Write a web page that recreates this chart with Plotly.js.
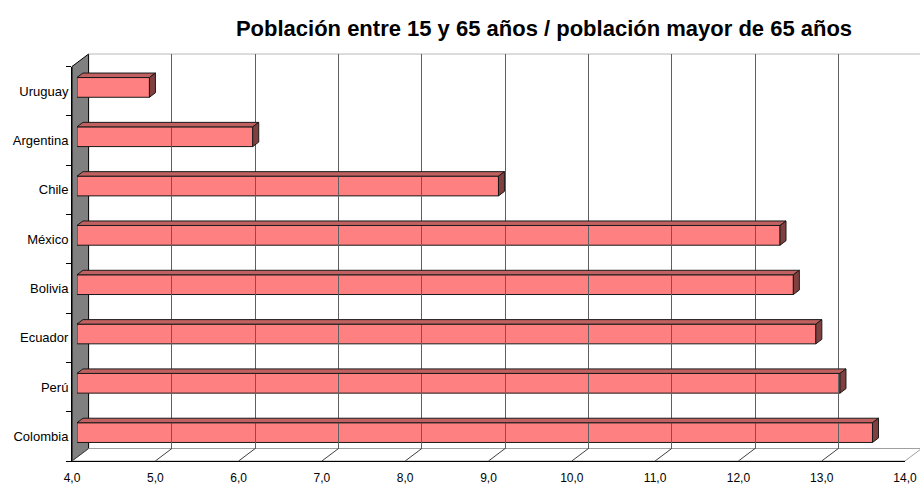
<!DOCTYPE html>
<html>
<head>
<meta charset="utf-8">
<script src="https://cdn.plot.ly/plotly-3.0.1.min.js"></script>
<style>html,body{margin:0;padding:0;background:#fff;}#chart{width:920px;height:484px;}</style>
</head>
<body>
<div id="chart"></div>
<script>
// ---- data ----
const countries = ['Colombia', 'Perú', 'Ecuador', 'Bolivia', 'México', 'Chile', 'Argentina', 'Uruguay'];
const ratios = [13.55, 13.16, 12.87, 12.60, 12.44, 9.06, 6.11, 4.87];
const xTickVals = [4, 5, 6, 7, 8, 9, 10, 11, 12, 13, 14];
const titleText = 'Población entre 15 y 65 años / población mayor de 65 años';

// ---- geometry / style (pseudo-3D frame) ----
const FIG_W = 920, FIG_H = 484;
const M = {l: 72, r: 0, t: 54, b: 23};
const PW = FIG_W - M.l - M.r, PH = FIG_H - M.t - M.b;
const FRONT_W = 833, FRONT_H = 394.5;   // front plane size (px)
const DX = 16.6, DY = 12.5;            // full depth offset (px)
const BAR_F = 0.3, BAR_D = 0.36;       // bar front position / bar depth, as fraction of full depth
const X_MIN = 4, X_MAX = 14;
const pxPerX = FRONT_W / (X_MAX - X_MIN);
const pxPerY = FRONT_H / countries.length;
const dxu = BAR_D * DX / pxPerX, dyu = BAR_D * DY / pxPerY;
const halfBar = 0.2;

const FAMILY = 'Liberation Sans, Arial, sans-serif';
const font = {family: FAMILY, size: 13, color: '#000'};
const xfont = {family: FAMILY, size: 12, color: '#000'};

const traces = [
  { // invisible trace holding the category axis of the front plane
    type: 'scatter', x: ratios, y: countries, xaxis: 'x', yaxis: 'y',
    mode: 'markers', marker: {opacity: 0}, hoverinfo: 'skip', showlegend: false
  },
  { // invisible trace holding the back wall axes
    type: 'scatter', x: ratios, y: countries, xaxis: 'x3', yaxis: 'y3',
    mode: 'markers', marker: {opacity: 0}, hoverinfo: 'skip', showlegend: false
  },
  { // bar front faces
    type: 'bar', orientation: 'h', y: countries, x: ratios.map(v => v - X_MIN), base: X_MIN,
    xaxis: 'x2', yaxis: 'y2', width: 2 * halfBar,
    marker: {color: '#FF8080', line: {color: '#1a1a1a', width: 1}},
    hovertemplate: '%{y}: %{customdata}<extra></extra>', customdata: ratios,
    showlegend: false
  }
];

const shapes = [];
// left wall
shapes.push({type: 'path', xref: 'paper', yref: 'paper', layer: 'below',
  path: `M 0,0 L 0,${FRONT_H / PH} L ${DX / PW},1 L ${DX / PW},${DY / PH} Z`,
  fillcolor: '#808080', line: {color: '#000', width: 1}});
// floor
shapes.push({type: 'path', xref: 'paper', yref: 'paper', layer: 'below',
  path: `M 0,0 L ${FRONT_W / PW},0 L ${(FRONT_W + DX) / PW},${DY / PH} L ${DX / PW},${DY / PH} Z`,
  fillcolor: '#fff', line: {color: '#a0a0a0', width: 1}});
// back wall top edge
shapes.push({type: 'line', xref: 'paper', yref: 'paper', layer: 'below',
  x0: DX / PW, y0: 1, x1: 1, y1: 1, line: {color: '#b8b8b8', width: 1}});
// floor tick diagonals
xTickVals.forEach(v => {
  shapes.push({type: 'line', xref: 'x', yref: 'paper', layer: 'above',
    x0: v, y0: 0, x1: v + DX / pxPerX, y1: DY / PH, line: {color: '#404040', width: 1}});
});
// bar top and side faces
ratios.forEach((v, i) => {
  const yt = i + halfBar, yb = i - halfBar;
  shapes.push({type: 'path', xref: 'x2', yref: 'y2', layer: 'above',
    path: `M ${X_MIN},${yt} L ${v},${yt} L ${v + dxu},${yt + dyu} L ${X_MIN + dxu},${yt + dyu} Z`,
    fillcolor: '#C06060', line: {color: '#1a1a1a', width: 1}});
  shapes.push({type: 'path', xref: 'x2', yref: 'y2', layer: 'above',
    path: `M ${v},${yb} L ${v},${yt} L ${v + dxu},${yt + dyu} L ${v + dxu},${yb + dyu} Z`,
    fillcolor: '#804040', line: {color: '#1a1a1a', width: 1}});
});

const hidden = {showline: false, showticklabels: false, zeroline: false, showgrid: false, ticks: '', fixedrange: true};

const layout = {
  width: FIG_W, height: FIG_H,
  margin: M,
  paper_bgcolor: '#fff', plot_bgcolor: 'rgba(0,0,0,0)',
  separators: ',.',
  font: font,
  showlegend: false,
  title: {
    text: titleText, x: 544 / FIG_W, xanchor: 'center', xref: 'container',
    y: 1 - 28 / FIG_H, yanchor: 'middle', yref: 'container',
    font: {family: FAMILY, size: 22, color: '#000', weight: 'bold'}
  },
  xaxis: {
    domain: [0, FRONT_W / PW], range: [X_MIN, X_MAX], anchor: 'y',
    tickmode: 'array', tickvals: xTickVals, tickformat: '.1f',
    showline: true, linecolor: '#000', linewidth: 1, showgrid: false, zeroline: false,
    ticks: '', ticklabelstandoff: 6, tickfont: xfont, fixedrange: true
  },
  yaxis: {
    domain: [0, FRONT_H / PH], range: [-0.5, countries.length - 0.5], anchor: 'x',
    type: 'category', tickson: 'boundaries', ticks: 'outside', ticklen: 5, tickcolor: '#000',
    showline: true, linecolor: '#000', linewidth: 1, showgrid: false, zeroline: false,
    tickfont: font, fixedrange: true
  },
  xaxis2: Object.assign({}, hidden, {
    domain: [BAR_F * DX / PW, (FRONT_W + BAR_F * DX) / PW], range: [X_MIN, X_MAX], anchor: 'y2'
  }),
  yaxis2: Object.assign({}, hidden, {
    type: 'category',
    domain: [BAR_F * DY / PH, (FRONT_H + BAR_F * DY) / PH], range: [-0.5, countries.length - 0.5], anchor: 'x2'
  }),
  xaxis3: Object.assign({}, hidden, {
    domain: [DX / PW, 1], range: [X_MIN, X_MIN + (PW - DX) / pxPerX], anchor: 'y3',
    showgrid: true, gridcolor: '#606060', gridwidth: 1, tickmode: 'array', tickvals: xTickVals
  }),
  yaxis3: Object.assign({}, hidden, {
    type: 'category',
    domain: [DY / PH, 1], range: [-0.5, countries.length - 0.5], anchor: 'x3'
  }),
  shapes: shapes
};

Plotly.newPlot('chart', traces, layout, {displayModeBar: false, staticPlot: true});
</script>
</body>
</html>
